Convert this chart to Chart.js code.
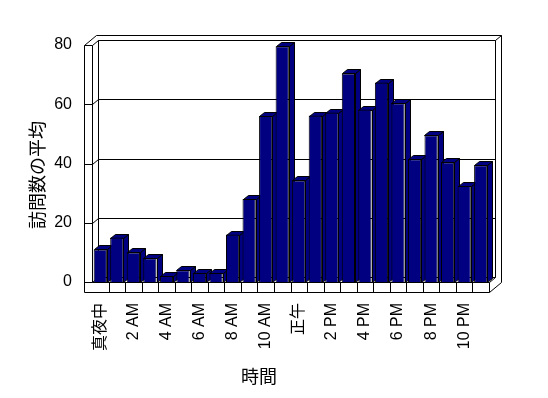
<!DOCTYPE html>
<html>
<head>
<meta charset="utf-8">
<script src="https://cdn.jsdelivr.net/npm/chart.js@4"></script>
<style>
 html, body { margin: 0; padding: 0; background: #fff; }
 #wrap { width: 548px; height: 398px; }
</style>
</head>
<body>
<div id="wrap"><canvas id="barChart" width="548" height="398"></canvas></div>
<script>
// hours of the day (odd ones are not printed on the axis)
const hours = ['真夜中', '1 AM', '2 AM', '3 AM', '4 AM', '5 AM', '6 AM', '7 AM', '8 AM', '9 AM', '10 AM', '11 AM',
  '正午', '1 PM', '2 PM', '3 PM', '4 PM', '5 PM', '6 PM', '7 PM', '8 PM', '9 PM', '10 PM', '11 PM'];
const visits = [11, 15, 10, 8, 2, 4, 3, 3, 16, 28, 56, 79.6, 34.3, 56.2, 57.2, 70.4, 58.2, 67.3, 60.3, 41.4, 49.5, 40.4, 32.4, 39.4];
const yTicks = [0, 20, 40, 60, 80];
const xTitle = '時間';
const yTitle = '訪問数の平均';

const FONT = '"Liberation Sans", "Noto Sans CJK JP", sans-serif';
const NAVY = '#000080';

// depth offsets: walls and bars
const DX = 6, DY = -5;
const BX = 5, BY = -4;

function line(ctx, pts) {
  ctx.beginPath();
  pts.forEach((p, i) => {
    const px = Math.round(p[0]) + 0.5, py = Math.round(p[1]) + 0.5;
    if (i == 0) ctx.moveTo(px, py); else ctx.lineTo(px, py);
  });
  ctx.stroke();
}

function poly(ctx, pts) {
  ctx.beginPath();
  pts.forEach((p, i) => {
    const px = Math.round(p[0]) + 0.5, py = Math.round(p[1]) + 0.5;
    if (i == 0) ctx.moveTo(px, py); else ctx.lineTo(px, py);
  });
  ctx.closePath();
  ctx.fill();
  ctx.stroke();
}

const box3d = {
  id: 'box3d',
  beforeDatasetsDraw(chart) {
    const ctx = chart.ctx;
    const { left: L, right: R, top: T, bottom: B } = chart.chartArea;
    const xs = chart.scales.x, ys = chart.scales.y;
    ctx.save();
    ctx.strokeStyle = '#000';
    ctx.lineWidth = 1;

    // back wall (inner face) and its top/right slab edges
    line(ctx, [[L + DX, B + DY], [L + DX, T + DY], [R + DX, T + DY], [R + DX, B + DY]]);
    line(ctx, [[L - 8, T], [L - 8 + 2 * DX, T + 2 * DY], [R + 2 * DX, T + 2 * DY], [R + 2 * DX, B]]);
    line(ctx, [[R + DX, T + DY], [R + 2 * DX, T + 2 * DY]]);

    // grid on back wall + left wall
    yTicks.forEach(v => {
      const py = ys.getPixelForValue(v);
      line(ctx, [[L - 8, py], [L, py], [L + DX, py + DY], [R + DX, py + DY]]);
    });

    // left wall front face
    line(ctx, [[L - 8, T], [L - 8, B + 10], [R, B + 10], [R, B]]);
    line(ctx, [[L, T], [L, B], [R, B]]);
    // floor right side
    line(ctx, [[R, B], [R + DX, B + DY]]);
    line(ctx, [[R, B + 10], [R + 2 * DX, B]]);

    // category dividers on floor front
    for (let k = 1; k < hours.length; k++) {
      const px = (xs.getPixelForValue(k - 1) + xs.getPixelForValue(k)) / 2;
      line(ctx, [[px, B], [px, B + 10]]);
    }

    // side and top faces of the bars
    ctx.fillStyle = NAVY;
    chart.getDatasetMeta(0).data.forEach(bar => {
      const p = bar.getProps(['x', 'y', 'base', 'width'], true);
      const l = p.x - p.width / 2, r = p.x + p.width / 2;
      poly(ctx, [[r, p.y], [r + BX, p.y + BY], [r + BX, p.base + BY], [r, p.base]]);
      poly(ctx, [[l, p.y], [l + BX, p.y + BY], [r + BX, p.y + BY], [r, p.y]]);
    });
    ctx.restore();
  },
  afterDraw(chart) {
    const ctx = chart.ctx;
    ctx.save();
    ctx.fillStyle = '#000';
    ctx.font = '18px "Noto Sans CJK JP", sans-serif';
    ctx.textAlign = 'center';
    ctx.textBaseline = 'middle';
    ctx.fillText(xTitle, 259, 376);
    ctx.translate(37, 175);
    ctx.rotate(-Math.PI / 2);
    ctx.fillText(yTitle, 0, 0);
    ctx.restore();
  }
};

const myChart = new Chart(document.getElementById('barChart'), {
  type: 'bar',
  data: {
    labels: hours,
    datasets: [{
      data: visits,
      backgroundColor: NAVY,
      borderColor: '#000',
      borderWidth: 1,
      categoryPercentage: 0.8,
      barPercentage: 1.0
    }]
  },
  options: {
    responsive: false,
    maintainAspectRatio: false,
    animation: false,
    events: [],
    layout: { padding: { left: 0, right: 59, top: 45, bottom: 0 } },
    plugins: { legend: { display: false }, tooltip: { enabled: false } },
    scales: {
      x: {
        grid: { display: false, drawTicks: false },
        border: { display: false },
        ticks: {
          autoSkip: false,
          minRotation: 90,
          maxRotation: 90,
          padding: 21,
          color: '#000',
          font: { family: FONT, size: 16 },
          callback: (v, i) => (i % 2 ? '' : hours[i])
        },
        afterFit: s => { s.height = 116; }
      },
      y: {
        min: 0,
        max: 80,
        grid: { display: false, drawTicks: false },
        border: { display: false },
        ticks: {
          stepSize: 20,
          padding: 20,
          color: '#000',
          font: { family: FONT, size: 16 }
        },
        afterFit: s => { s.width = 92; }
      }
    }
  },
  plugins: [box3d]
});
</script>
</body>
</html>
